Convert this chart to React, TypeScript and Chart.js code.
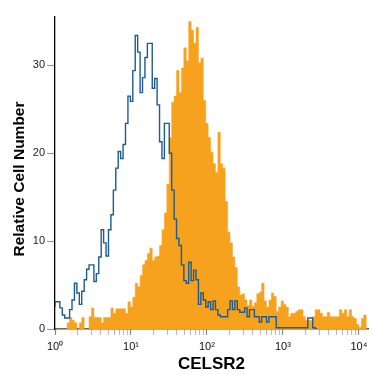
import React, { useEffect, useRef } from "react";
import { Chart, registerables } from "chart.js";

Chart.register(...registerables);

// Histogram bins on a log10 axis (decades), width of one bin in decades
const BIN_WIDTH = 0.032;
const X_MAX = 4.12;
const Y_MAX = 35.5;

const MAJOR_DECADES = [0, 1, 2, 3, 4];
const MAJOR_LABELS = ["10⁰", "10¹", "10²", "10³", "10⁴"];
const MINOR_MULTIPLIERS = [2, 3, 4, 5, 6, 7, 8, 9];
const Y_TICKS = [0, 10, 20, 30];

const X_TITLE = "CELSR2";
const Y_TITLE = "Relative Cell Number";

// Isotype control (blue outline)
const CONTROL_COUNTS = [
  2.5, 3.1, 3.1, 2.4, 1.6, 1.25, 1.25, 2.2, 3.3, 5.2,
  4.1, 2.8, 4.3, 5.6, 6.8, 7.3, 7.3, 5.4, 6.3, 8.2,
  11.3, 9.8, 8.3, 11.3, 13.0, 15.8, 18.3, 20.2, 19.4, 21.0,
  23.4, 26.5, 25.9, 29.4, 33.4, 31.5, 26.9, 28.6, 30.9, 32.5,
  32.5, 27.4, 28.5, 25.5, 21.3, 19.4, 23.4, 23.4, 20.0, 15.8,
  12.5, 10.3, 9.5, 7.3, 5.5, 5.2, 7.6, 5.5, 6.7, 5.6,
  2.8, 4.1, 3.3, 2.5, 3.1, 2.2, 3.2, 2.2, 1.6, 1.4,
  1.4, 1.4, 2.2, 3.2, 2.2, 3.2, 2.2, 1.9, 1.9, 2.4,
  1.4, 2.2, 2.2, 1.4, 1.4, 0.8, 1.4, 1.4, 0.8, 1.4,
  1.4, 1.4, 0.15, 0.15, 0.15, 0.15, 0.15, 0.15, 0.15, 0.15,
  0.15, 0.15, 0.15, 0.15, 0.15, 1.25, 1.25, 0.15,
];

// CELSR2 stained (orange filled)
const CELSR2_COUNTS = [
  0, 0, 0, 0, 0, 0, 0.7, 1.3, 1.0, 0.7,
  0, 0.7, 1.3, 0, 0, 1.4, 2.4, 1.3, 1.3, 1.3,
  0.7, 1.3, 1.3, 1.3, 2.4, 1.8, 2.3, 2.3, 2.3, 2.3,
  1.8, 3.1, 2.5, 3.6, 5.2, 4.8, 6.1, 7.3, 7.8, 8.6,
  9.2, 7.8, 8.2, 8.3, 9.5, 11.3, 13.2, 16.5, 21.8, 25.8,
  26.5, 29.4, 26.9, 29.7, 32.0, 30.5, 35.0, 34.0, 32.5, 34.3,
  30.3, 30.8, 26.0, 23.4, 21.8, 20.1, 18.8, 17.8, 22.4, 18.8,
  18.3, 14.5, 11.0, 9.8, 8.2, 7.0, 4.8, 3.9, 4.0, 3.3,
  2.7, 3.3, 2.6, 3.0, 4.0, 4.2, 5.2, 3.2, 2.5, 3.3,
  4.1, 3.7, 2.0, 2.5, 3.2, 2.8, 2.5, 1.4, 1.8, 1.8,
  2.0, 2.2, 2.2, 1.4, 1.0, 1.0, 1.0, 1.4, 2.2, 2.2,
  1.8, 1.4, 1.4, 1.9, 1.4, 1.4, 1.4, 1.4, 2.2, 1.8,
  2.2, 1.4, 2.2, 1.4, 1.2, 0.5, 0.2, 1.2, 1.6,
];

function toSteps(values: number[]) {
  const pts = values.map((v, i) => ({ x: i * BIN_WIDTH, y: v }));
  pts.push({ x: values.length * BIN_WIDTH, y: 0 });
  return pts;
}

const X_TICK_VALUES: number[] = [];
MAJOR_DECADES.forEach((d) => {
  X_TICK_VALUES.push(d);
  if (d < 4) MINOR_MULTIPLIERS.forEach((m) => X_TICK_VALUES.push(d + Math.log10(m)));
});

const isMajor = (v: number) => Math.abs(v - Math.round(v)) < 1e-9;

const FAMILY = "'Liberation Sans', Arial, sans-serif";

// Draws the y-axis title slightly below the chart-area centre, as in the reference
const yTitlePlugin = {
  id: "yTitle",
  afterDraw(chart: any) {
    const { ctx, chartArea } = chart;
    ctx.save();
    ctx.translate(20, (chartArea.top + chartArea.bottom) / 2 + 6);
    ctx.rotate(-Math.PI / 2);
    ctx.font = `bold 15.5px ${FAMILY}`;
    ctx.fillStyle = "#000";
    ctx.textAlign = "center";
    ctx.textBaseline = "middle";
    ctx.fillText(Y_TITLE, 0, 0);
    ctx.restore();
  },
};

export default function App() {
  const ref = useRef<HTMLCanvasElement | null>(null);

  useEffect(() => {
    document.body.style.margin = "0";
    const canvas = ref.current;
    if (!canvas) return;
    const chart = new Chart(canvas, {
      type: "line",
      data: {
        datasets: [
          {
            label: "Control",
            data: toSteps(CONTROL_COUNTS),
            stepped: "after",
            borderColor: "#1d5c92",
            borderWidth: 1.4,
            pointRadius: 0,
            fill: false,
          },
          {
            label: X_TITLE,
            data: toSteps(CELSR2_COUNTS),
            stepped: "after",
            borderColor: "#f7a21d",
            borderWidth: 0.5,
            backgroundColor: "#f7a21d",
            pointRadius: 0,
            fill: "origin",
          },
        ],
      },
      plugins: [yTitlePlugin],
      options: {
        animation: false,
        responsive: false,
        devicePixelRatio: 1,
        parsing: false,
        layout: { padding: { top: 17, right: 7, left: 0, bottom: 0 } },
        plugins: { legend: { display: false }, tooltip: { enabled: false } },
        scales: {
          x: {
            type: "linear",
            min: 0,
            max: X_MAX,
            afterBuildTicks: (scale: any) => {
              scale.ticks = X_TICK_VALUES.map((v) => ({ value: v }));
            },
            afterFit: (scale: any) => {
              scale.height = 46;
              scale.paddingLeft = 0;
              scale.paddingRight = 0;
            },
            border: { display: true, color: "#555", width: 1.5 },
            grid: {
              drawOnChartArea: false,
              drawTicks: true,
              tickLength: 6,
              tickColor: (ctx: any) => (ctx.tick && isMajor(ctx.tick.value) ? "#888" : "#bbb"),
              tickWidth: 1.2,
            },
            ticks: {
              autoSkip: false,
              maxRotation: 0,
              padding: 5,
              color: "#111",
              font: { family: FAMILY, size: 11 },
              callback: (value: any) => {
                const v = Number(value);
                if (!isMajor(v)) return "";
                return MAJOR_LABELS[Math.round(v)] ?? "";
              },
            },
            title: {
              display: true,
              text: X_TITLE,
              color: "#000",
              font: { family: FAMILY, size: 17, weight: "bold" },
              padding: { top: 0, bottom: 0 },
            },
          },
          y: {
            type: "linear",
            min: 0,
            max: Y_MAX,
            afterBuildTicks: (scale: any) => {
              scale.ticks = Y_TICKS.map((v) => ({ value: v }));
            },
            afterFit: (scale: any) => {
              scale.width = 55;
              scale.paddingTop = 0;
              scale.paddingBottom = 0;
            },
            border: { display: true, color: "#000", width: 1.3 },
            grid: {
              drawOnChartArea: false,
              drawTicks: true,
              tickLength: 8,
              tickColor: "#999",
              tickWidth: 1.2,
            },
            ticks: {
              padding: 2,
              color: "#222",
              font: { family: FAMILY, size: 11 },
              callback: (value: any) => String(value),
            },
            title: { display: false },
          },
        },
      } as any,
    });
    return () => chart.destroy();
  }, []);

  return (
    <div style={{ position: "absolute", left: 0, top: 0, width: 375, height: 375, background: "#fff" }}>
      <canvas ref={ref} width={375} height={375} style={{ width: 375, height: 375, display: "block" }} />
    </div>
  );
}
